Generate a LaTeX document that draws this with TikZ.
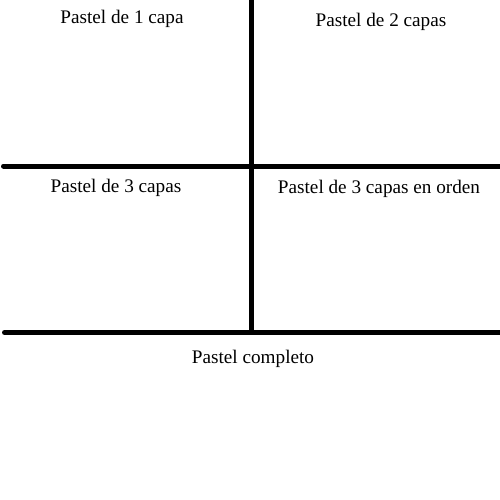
\documentclass[tikz,border=0pt]{standalone}
\usepackage{fontspec}
\setmainfont{Liberation Serif}
\begin{document}
\begin{tikzpicture}[x=1pt,y=-1pt,
  rule/.style={line width=5pt,line cap=round},
  lbl/.style={font=\fontsize{19.2}{21}\selectfont,inner sep=0pt,anchor=base}]
\useasboundingbox (0,0) rectangle (500,500);
\coordinate (vtop) at (251,-3);
\coordinate (vbot) at (251,332);
\coordinate (m1) at (3.5,166);
\coordinate (m2) at (503,166);
\coordinate (b1) at (4.5,332.5);
\coordinate (b2) at (503,332.5);
\draw[rule] (vtop) -- (vbot);
\draw[rule] (m1) -- (m2);
\draw[rule] (b1) -- (b2);
\node[lbl] (t1) at (122,24) {Pastel de 1 capa};
\node[lbl] (t2) at (381,27) {Pastel de 2 capas};
\node[lbl] (t3) at (116,192) {Pastel de 3 capas};
\node[lbl] (t4) at (379,193) {Pastel de 3 capas en orden};
\node[lbl] (t5) at (253,363) {Pastel completo};
\end{tikzpicture}
\end{document}
